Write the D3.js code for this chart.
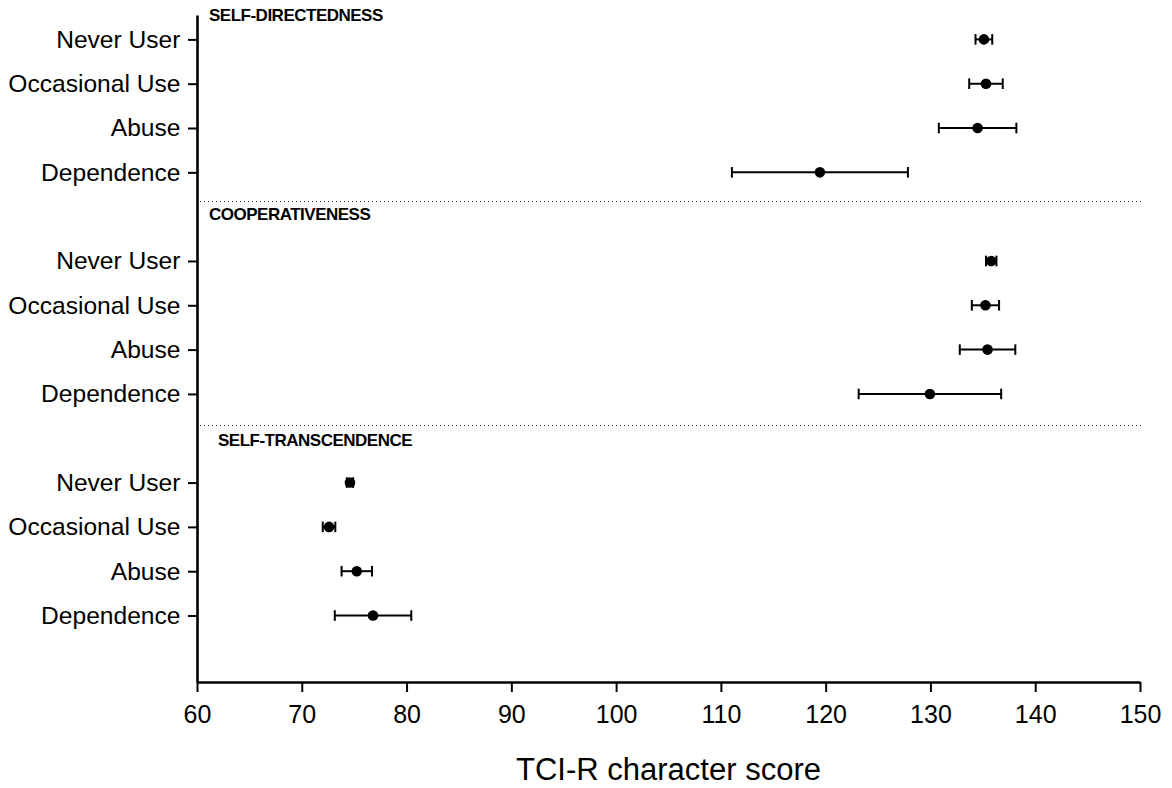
<!DOCTYPE html>
<html>
<head>
<meta charset="utf-8">
<script src="https://cdn.jsdelivr.net/npm/d3@7"></script>
<style>
  html, body { margin: 0; padding: 0; background: #fff; }
  svg { display: block; font-family: "Liberation Sans", Arial, Helvetica, sans-serif; }
</style>
</head>
<body>
<svg id="chart" width="1172" height="788"></svg>
<script>
// Character dimensions (TCI-R) and substance-use groups
const dimensions = ["SELF-DIRECTEDNESS", "COOPERATIVENESS", "SELF-TRANSCENDENCE"];
const groups = ["Never User", "Occasional Use", "Abuse", "Dependence"];

// Mean score per group, one array per dimension
const meanSelfDirectedness = [135.1, 135.3, 134.5, 119.45];
const meanCooperativeness  = [135.8, 135.25, 135.45, 129.95];
const meanSelfTranscendence = [74.6, 72.6, 75.25, 76.8];

// Half-width of the error bar per group
const errSelfDirectedness = [0.8, 1.6, 3.7, 8.4];
const errCooperativeness  = [0.5, 1.3, 2.65, 6.8];
const errSelfTranscendence = [0.3, 0.6, 1.45, 3.65];

const xTicks = [60, 70, 80, 90, 100, 110, 120, 130, 140, 150];
const xTitle = "TCI-R character score";

const means = [meanSelfDirectedness, meanCooperativeness, meanSelfTranscendence];
const errs = [errSelfDirectedness, errCooperativeness, errSelfTranscendence];

// Flatten into rows; each dimension block takes 5 slots (4 groups + gap)
const rows = [];
dimensions.forEach((dim, d) => {
  groups.forEach((g, k) => {
    rows.push({ dim: d, group: g, slot: d * 5 + k, mean: means[d][k], err: errs[d][k] });
  });
});

const svg = d3.select("#chart");
const FONT = "'Liberation Sans', Arial, Helvetica, sans-serif";

const x = d3.scaleLinear().domain([60, 150]).range([197, 1140]);
const y = d3.scaleLinear().domain([-0.55, 14.5]).range([15, 682]);

// Dotted separators between dimension blocks
const separatorSlots = [3.65, 8.7];
svg.append("g").selectAll("line")
  .data(separatorSlots)
  .join("line")
  .attr("x1", 200).attr("x2", 1143)
  .attr("y1", d => Math.round(y(d)) + 0.5).attr("y2", d => Math.round(y(d)) + 0.5)
  .attr("stroke", "#333").attr("stroke-width", 1)
  .attr("stroke-dasharray", "1,3");

// Block titles (offset in px above the first row of each block, and x start)
const titleLayout = [{ dy: -18.7, x: 209 }, { dy: -41, x: 209 }, { dy: -37, x: 218 }];
svg.append("g").selectAll("text")
  .data(dimensions)
  .join("text")
  .attr("x", (d, i) => titleLayout[i].x)
  .attr("y", (d, i) => y(i * 5) + titleLayout[i].dy)
  .attr("font-family", FONT)
  .attr("font-weight", "bold")
  .attr("font-size", 17)
  .attr("letter-spacing", "-0.5px")
  .attr("fill", "#000")
  .text(d => d);

// Error bars
const bars = svg.append("g").selectAll("g")
  .data(rows)
  .join("g");
bars.append("line")
  .attr("x1", d => x(d.mean - d.err)).attr("x2", d => x(d.mean + d.err))
  .attr("y1", d => y(d.slot)).attr("y2", d => y(d.slot))
  .attr("stroke", "#000").attr("stroke-width", 2);
bars.append("line")
  .attr("x1", d => x(d.mean - d.err)).attr("x2", d => x(d.mean - d.err))
  .attr("y1", d => y(d.slot) - 5.3).attr("y2", d => y(d.slot) + 5.3)
  .attr("stroke", "#000").attr("stroke-width", 2);
bars.append("line")
  .attr("x1", d => x(d.mean + d.err)).attr("x2", d => x(d.mean + d.err))
  .attr("y1", d => y(d.slot) - 5.3).attr("y2", d => y(d.slot) + 5.3)
  .attr("stroke", "#000").attr("stroke-width", 2);
bars.append("circle")
  .attr("cx", d => x(d.mean)).attr("cy", d => y(d.slot))
  .attr("r", 5.3).attr("fill", "#000");

// Y axis with group labels
const yAxis = d3.axisLeft(y)
  .tickValues(rows.map(r => r.slot))
  .tickFormat(s => rows.find(r => r.slot === s).group)
  .tickSizeInner(9).tickSizeOuter(0).tickPadding(7.5);
const gy = svg.append("g").attr("transform", "translate(197,0)").call(yAxis);
gy.select(".domain").attr("stroke", "#000").attr("stroke-width", 2.6);
gy.selectAll(".tick line").attr("stroke", "#000").attr("stroke-width", 2);
gy.selectAll(".tick text").attr("font-family", FONT).attr("font-size", 24.6).attr("fill", "#000");

// X axis
const xAxis = d3.axisBottom(x)
  .tickValues(xTicks)
  .tickFormat(d3.format("d"))
  .tickSizeInner(10).tickSizeOuter(0).tickPadding(13.5);
const gx = svg.append("g").attr("transform", "translate(0,682)").call(xAxis);
gx.select(".domain").attr("stroke", "#000").attr("stroke-width", 2.6);
gx.selectAll(".tick line").attr("stroke", "#000").attr("stroke-width", 2);
gx.selectAll(".tick text").attr("font-family", FONT).attr("font-size", 25).attr("fill", "#000");

// X axis title
svg.append("text")
  .attr("x", (x.range()[0] + x.range()[1]) / 2)
  .attr("y", 780)
  .attr("text-anchor", "middle")
  .attr("font-family", FONT)
  .attr("font-size", 31)
  .attr("fill", "#000")
  .text(xTitle);
</script>
</body>
</html>
